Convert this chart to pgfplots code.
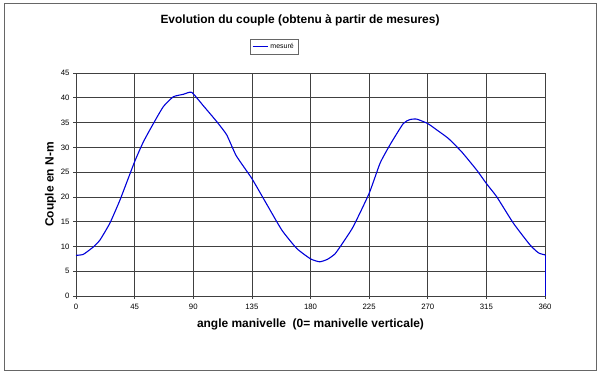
\documentclass[border=0pt]{standalone}
\usepackage{pgfplots}
\pgfplotsset{compat=1.18}
\usepackage{fontspec}
\setmainfont{Liberation Sans}
\begin{document}
\begin{tikzpicture}
\path[fill=white] (0bp,0bp) rectangle (600bp,374bp);
\draw[gray!80!black, line width=0.8bp] (4bp,4bp) rectangle (596bp,371bp);
\node[font=\bfseries\fontsize{12}{14}\selectfont] at (300bp,354bp) {Evolution du couple (obtenu à partir de mesures)};
\begin{axis}[
  at={(76bp,78bp)}, anchor=south west,
  scale only axis, width=469bp, height=223bp,
  xmin=0, xmax=360, ymin=0, ymax=45,
  clip=false,
  xtick={0,45,...,360}, ytick={0,5,...,45},
  grid=major,
  grid style={black!75, line width=0.7bp},
  axis line style={black!75, line width=0.7bp},
  tick align=outside, xtick pos=bottom, ytick pos=left,
  major tick length=3bp,
  tick style={black!75, line width=0.7bp},
  ticklabel style={font=\fontsize{7.8}{9}\selectfont},
  xticklabel style={yshift=-2bp},
  /pgf/number format/assume math mode=true,
  xlabel={angle manivelle\ \ (0= manivelle verticale)},
  ylabel={Couple en N-m},
  xlabel style={font=\bfseries\fontsize{12}{14}\selectfont, yshift=-2bp},
  ylabel style={font=\bfseries\fontsize{12}{14}\selectfont, yshift=-2bp},
  legend style={at={(0.422,1.117)}, anchor=center, draw=black!60,
    font=\fontsize{7}{8}\selectfont, inner sep=2bp, row sep=0pt},
  legend image post style={xscale=0.9},
]
\addplot[blue!85!black, line width=1.1bp, smooth, tension=0.3] coordinates {
(0,8.2) (5.6,8.4) (13.3,9.9) (18.4,11.3) (26,14.7) (33.8,19.4) (45,27.1)
(51.7,31.1) (59.4,34.8) (67,38.2) (74.7,40.2) (82.4,40.7) (88.8,41.1)
(97.7,38.4) (108,35.2) (115.7,32.5) (123,28.3) (135,23.7) (146,18.7)
(158,13.3) (169.4,9.6) (180,7.5) (187,6.9) (193,7.4) (198.8,8.5) (205,10.8) (212.8,14)
(225,20.7) (233.4,26.8) (241,30.5) (251.2,34.8) (256.4,35.6) (261.5,35.7)
(270,34.8) (277,33.5) (285.8,31.8) (296,29.1) (307.6,25.4) (315,22.7)
(323,20) (335.7,14.7) (348.5,10.3) (355,8.7) (360,8.3)
};
\addlegendentry{mesuré}
\addplot[blue!85!black, line width=0.8bp, forget plot] coordinates {(360,8.3) (360,0)};
\end{axis}
\end{tikzpicture}
\end{document}
